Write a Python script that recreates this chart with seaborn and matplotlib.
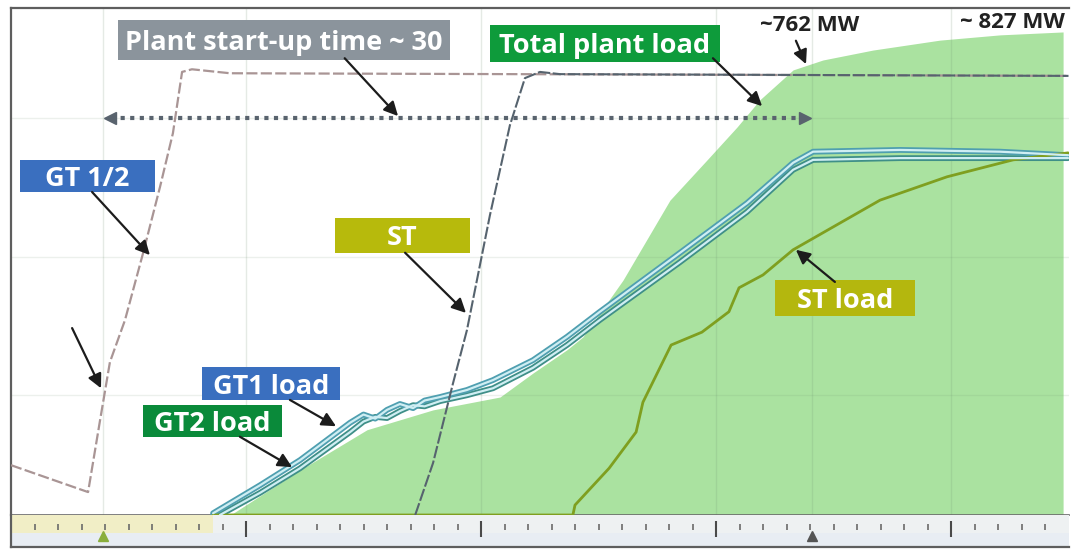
import matplotlib
matplotlib.use("Agg")
import matplotlib.pyplot as plt
from matplotlib.patches import Rectangle
import seaborn as sns

# time axis in minutes, loads in MW, shaft speeds in % of nominal
total_t = [8.6, 9.45, 12.3, 15.15, 17.96, 20.81, 22.21, 23.66, 24.34, 26.04, 28.04, 29.62, 30.89, 31.87, 33.28, 34.55, 36.68, 39.53, 42.09, 44.77]
total_mw = [0, 3, 77, 146, 180, 202, 243, 283, 305, 402, 539, 608, 664, 711, 762, 779, 796, 813, 822, 827]

gt1_t = [8.6, 10.6, 12.3, 14.43, 15.0, 15.5, 16.0, 16.55, 17.11, 17.6, 18.26, 19.4, 20.51, 22.21, 23.66, 25.06, 28.47, 31.32, 33.28, 34.13, 37.83, 42.09, 44.98]
gt1_mw = [3, 51, 94, 158, 172, 165, 180, 190, 183, 196, 202, 214, 231, 265, 305, 348, 449, 534, 603, 622, 625, 622, 616]

gt2_t = [8.89, 10.6, 12.3, 14.43, 15.0, 15.5, 16.0, 16.55, 17.11, 17.6, 18.26, 19.4, 20.51, 22.21, 23.66, 25.06, 28.47, 31.32, 33.28, 34.13, 37.83, 44.98]
gt2_mw = [0, 38, 80, 142, 160, 168, 166, 178, 188, 186, 195, 205, 217, 252, 291, 334, 433, 519, 591, 608, 611, 611]

st_load_t = [8.6, 23.91, 24.0, 25.45, 26.6, 26.89, 28.09, 29.4, 30.55, 30.98, 32.0, 33.28, 36.98, 39.83, 42.64, 44.98]
st_load_mw = [0, 0, 17, 80, 142, 193, 291, 313, 348, 389, 411, 454, 539, 579, 608, 620]

gt_speed_t = [0.0, 3.28, 3.79, 4.21, 4.85, 5.62, 6.34, 6.89, 7.28, 7.70, 9.32, 45.0]
gt_speed_pct = [11.3, 5.2, 21.5, 34.7, 44.2, 59.4, 74.4, 86.6, 100.5, 101.1, 100.2, 99.6]

st_speed_t = [17.2, 17.96, 18.81, 19.40, 20.38, 21.23, 21.87, 22.51, 23.36, 45.0]
st_speed_pct = [0, 11.8, 29.9, 41.9, 68.0, 88.4, 99.1, 100.5, 100.0, 99.6]

startup_begin, startup_end = 3.91, 34.09
startup_level_mw = 680

sns.set_theme(style="white")
plt.rcParams["font.family"] = ["Open Sans", "DejaVu Sans"]

fig = plt.figure(figsize=(10.79, 5.5), dpi=100)
ax = fig.add_axes([11 / 1079, 35 / 550, 1057.5 / 1079, 507 / 550])
ax2 = ax.twinx()
strip = fig.add_axes([11 / 1079, 3 / 550, 1057.5 / 1079, 32 / 550])

# grid
for t in [startup_begin, 10, 20, 30, startup_end, 40]:
    ax.axvline(t, color="#6f8f6f", alpha=0.18, lw=1, zorder=2)
for mw in [205, 442, 680]:
    ax.axhline(mw, color="#6f8f6f", alpha=0.13, lw=1, zorder=2)

# total plant load
ax.fill_between(total_t, 0, total_mw, color="#aae2a0", lw=0, zorder=1)

# GT loads: dark rim with a light core
for tt, mw, rim in [(gt2_t, gt2_mw, "#3f8f88"), (gt1_t, gt1_mw, "#4f9fb0")]:
    sns.lineplot(x=tt, y=mw, ax=ax, sort=False, estimator=None, color=rim, lw=4.2, zorder=3)
    sns.lineplot(x=tt, y=mw, ax=ax, sort=False, estimator=None, color="#cfeef3", lw=1.6, zorder=4)

sns.lineplot(x=st_load_t, y=st_load_mw, ax=ax, sort=False, estimator=None, color="#7f9f1f", lw=2.0, zorder=3)

# start-up time marker
ax.plot([startup_begin + 0.35, startup_end - 0.35], [startup_level_mw] * 2, color="#59636e", lw=3, ls=(0, (1, 1.3)), zorder=5)
ax.plot([startup_begin + 0.3], [startup_level_mw], marker="<", ms=9, color="#59636e", zorder=5)
ax.plot([startup_end - 0.3], [startup_level_mw], marker=">", ms=9, color="#59636e", zorder=5)

ax.set_xlim(0, 45)
ax.set_ylim(0, 868)

# shaft speeds
sns.lineplot(x=gt_speed_t, y=gt_speed_pct, ax=ax2, sort=False, estimator=None, color="#a99595", lw=1.6, ls=(0, (5, 1.5)))
sns.lineplot(x=st_speed_t, y=st_speed_pct, ax=ax2, sort=False, estimator=None, color="#56636e", lw=1.5, ls=(0, (6, 1.2)))
ax2.set_ylim(0, 115)

for a in (ax, ax2):
    a.set_xticks([])
    a.set_yticks([])
    a.set_xlabel("")
    a.set_ylabel("")
ax2.patch.set_visible(False)
for side in ["left", "top"]:
    ax.spines[side].set_color("#5e5e5e")
    ax.spines[side].set_linewidth(1.6)
ax.spines["bottom"].set_color("#6a6a6a")
ax.spines["bottom"].set_linewidth(1.2)
ax.spines["right"].set_visible(False)
for s in ax2.spines.values():
    s.set_visible(False)

# annotations, placed in (minutes, MW) coordinates
D = ax.transData
arrow_kw = dict(arrowstyle="-|>,head_length=0.6,head_width=0.3", color="#1c1c1c", lw=1.6, mutation_scale=14, shrinkA=0, shrinkB=0)


def tag(text, x0, x1, y0, y1, face, start=None, tip=None, size=19.5):
    ax2.add_patch(Rectangle((x0, y0), x1 - x0, y1 - y0, transform=D, fc=face, ec="none", zorder=6))
    ax2.text((x0 + x1) / 2, (y0 + y1) / 2, text, transform=D, color="white", fontsize=size,
             fontweight="bold", ha="center", va="center_baseline", zorder=7)
    if tip is not None:
        ax2.annotate("", xy=tip, xycoords=D, xytext=start, textcoords=D, arrowprops=arrow_kw, zorder=8)


tag("Plant start-up time ~ 30", 4.55, 18.68, 779, 848, "#8b949c", (14.2, 782), (16.47, 683))
tag("Total plant load", 20.38, 30.17, 776, 839, "#0e9b3b", (29.87, 782), (31.96, 700))
tag("GT 1/2", 0.38, 6.13, 553, 608, "#3a6fbf", (3.45, 553), (5.91, 445))
tag("ST", 13.79, 19.53, 449, 509, "#b7ba0c", (16.77, 449), (19.36, 346))
tag("ST load", 32.51, 38.47, 341, 402, "#b4b70e", (35.06, 399), (33.4, 454))
tag("GT1 load", 8.13, 14.0, 197, 253, "#3a6fbf", (11.87, 197), (13.83, 152))
tag("GT2 load", 5.62, 11.53, 134, 188, "#0a8a3a", (9.74, 134), (11.96, 82))
ax2.annotate("", xy=(3.83, 217), xycoords=D, xytext=(2.6, 320), textcoords=D, arrowprops=arrow_kw, zorder=8)

ax2.text(34.0, 838, "~762 MW", transform=D, ha="center", va="center", fontsize=16, fontweight="bold", color="#222222")
ax2.annotate("", xy=(33.83, 772), xycoords=D, xytext=(33.4, 812), textcoords=D, arrowprops=arrow_kw, zorder=8)
ax2.text(42.6, 843, "~ 827 MW", transform=D, ha="center", va="center", fontsize=16, fontweight="bold", color="#222222")

# time strip below the trend
strip.set_xlim(0, 45)
strip.set_ylim(0, 1)
strip.set_facecolor("#e8edf3")
strip.axvspan(0, 8.6, ymin=0.45, ymax=1, color="#f1eec6", lw=0)
strip.axvspan(8.6, 45, ymin=0.45, ymax=1, color="#eef1f2", lw=0)
minute_marks = [m for m in range(1, 45) if m % 10]
strip.vlines(minute_marks, 0.52, 0.72, color="#6a6a6a", lw=1.2)
strip.vlines(range(10, 45, 10), 0.3, 0.82, color="#4a4a4a", lw=1.5)
strip.set_xticks([])
strip.set_yticks([])
strip.plot([startup_begin], [0.35], marker="^", ms=7, color="#8aae3c")
strip.plot([startup_end], [0.35], marker="^", ms=7, color="#555555")
for side in ["top", "right"]:
    strip.spines[side].set_visible(False)
strip.spines["left"].set_color("#5e5e5e")
strip.spines["left"].set_linewidth(1.6)
strip.spines["bottom"].set_color("#5e5e5e")
strip.spines["bottom"].set_linewidth(1.6)

fig.savefig("out.png", dpi=100)
